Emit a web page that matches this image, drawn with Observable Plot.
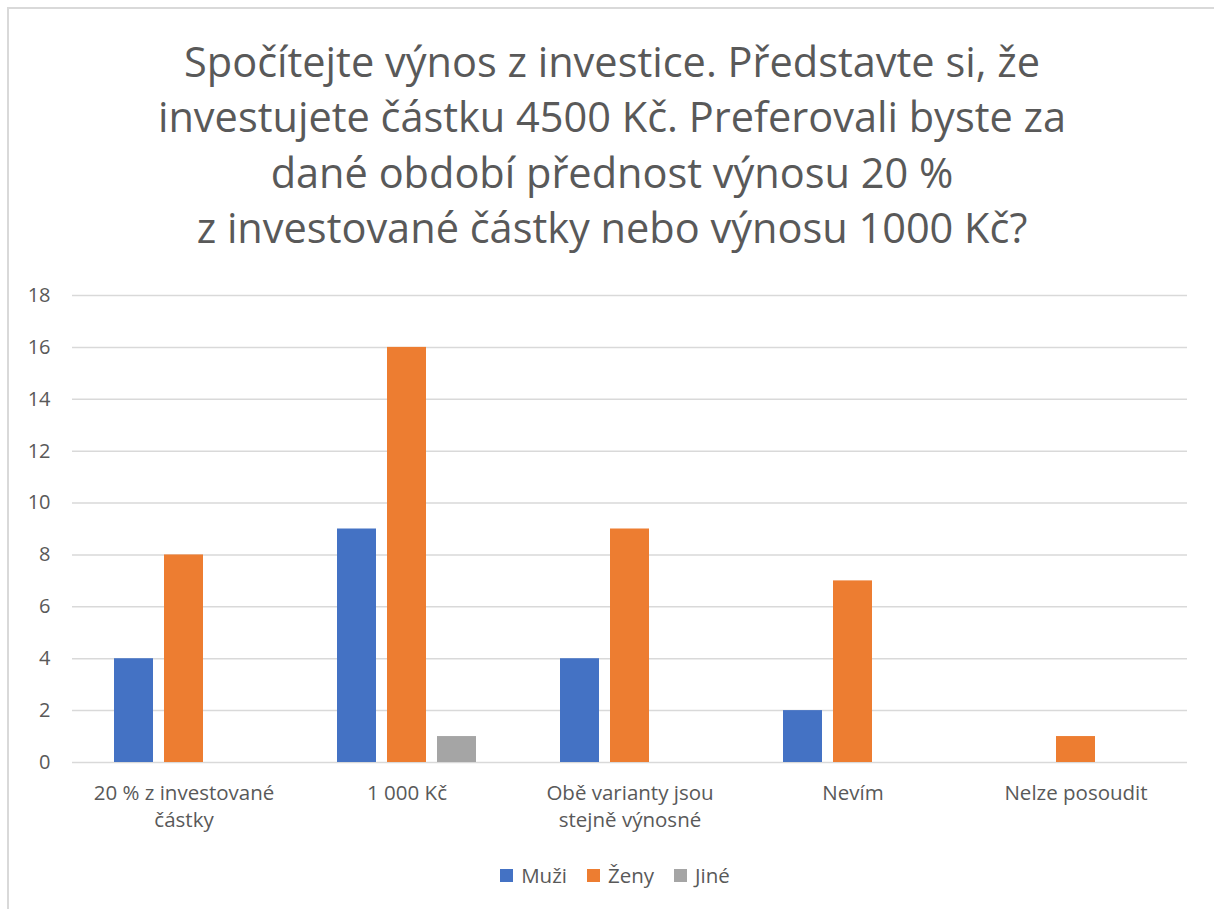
<!DOCTYPE html>
<html>
<head>
<meta charset="utf-8">
<script src="https://cdn.jsdelivr.net/npm/d3@7"></script>
<script src="https://cdn.jsdelivr.net/npm/@observablehq/plot@0.6"></script>
<style>
  html, body { margin: 0; padding: 0; background: #fff; }
  body { width: 1214px; height: 909px; position: relative; overflow: hidden; font-family: "Open Sans", sans-serif; color: #595959; }
  #frame { position: absolute; left: 7px; top: 7px; width: 1220px; height: 920px; border-left: 2px solid #d9d9d9; border-top: 2px solid #d9d9d9; box-sizing: border-box; }
  #title { position: absolute; left: 0; width: 1224px; top: 34px; text-align: center; font-size: 41.5px; line-height: 55.3px; color: #595959; white-space: nowrap; }
  #chart { position: absolute; left: 0; top: 270px; }
  #legend { position: absolute; left: 8px; width: 1214px; top: 861px; display: flex; justify-content: center; gap: 20px; font-size: 20.5px; color: #595959; line-height: 28px; }
  #legend span.item { display: flex; align-items: center; gap: 8px; }
  #legend span.sw { width: 13px; height: 13px; display: inline-block; }
</style>
</head>
<body>
<div id="frame"></div>
<div id="title">Spočítejte výnos z investice. Představte si, že<br>investujete částku 4500 Kč. Preferovali byste za<br>dané období přednost výnosu 20 %<br>z investované částky nebo výnosu 1000 Kč?</div>
<div id="chart"></div>
<div id="legend"></div>
<script>
const categories = ["20 % z investované částky", "1 000 Kč", "Obě varianty jsou stejně výnosné", "Nevím", "Nelze posoudit"];
const categoryLabels = ["20 % z investované\nčástky", "1 000 Kč", "Obě varianty jsou\nstejně výnosné", "Nevím", "Nelze posoudit"];
const series = ["Muži", "Ženy", "Jiné"];
const muzi = [4, 9, 4, 2, 0];
const zeny = [8, 16, 9, 7, 1];
const jine = [0, 1, 0, 0, 0];
const colors = ["#4472C4", "#ED7D31", "#A5A5A5"];
const yTicks = [0, 2, 4, 6, 8, 10, 12, 14, 16, 18];

const values = [muzi, zeny, jine];
const data = [];
categories.forEach((c, i) => {
  series.forEach((s, j) => {
    data.push({category: c, series: s, value: values[j][i]});
  });
});
const labelMap = new Map(categories.map((c, i) => [c, categoryLabels[i]]));

const chart = Plot.plot({
  width: 1214,
  height: 580,
  marginLeft: 72,
  marginRight: 27,
  marginTop: 25,
  marginBottom: 88,
  style: {fontFamily: "Open Sans, sans-serif", fontSize: "20px", color: "#595959", background: "transparent"},
  fx: {domain: categories, paddingInner: 0, paddingOuter: 0, label: null, axis: null},
  x: {domain: series, paddingInner: 0.22, paddingOuter: 0.84, axis: null},
  y: {domain: [0, 18], label: null},
  color: {domain: series, range: colors},
  marks: [
    Plot.gridY(yTicks, {stroke: "#d9d9d9", strokeOpacity: 1, strokeWidth: 1.5}),
    Plot.axisY(yTicks, {tickSize: 0, tickPadding: 22, fontSize: 20, fill: "#595959", label: null}),
    Plot.axisFx({anchor: "bottom", tickSize: 0, tickPadding: 18, fontSize: 20.5, fill: "#595959", lineHeight: 1.33, tickFormat: d => labelMap.get(d), label: null}),
    Plot.barY(data.filter(d => d.value > 0), {fx: "category", x: "series", y: "value", fill: "series"})
  ]
});
document.getElementById("chart").appendChild(chart);

const legend = document.getElementById("legend");
series.forEach((s, i) => {
  const item = document.createElement("span");
  item.className = "item";
  const sw = document.createElement("span");
  sw.className = "sw";
  sw.style.background = colors[i];
  item.appendChild(sw);
  item.appendChild(document.createTextNode(s));
  legend.appendChild(item);
});
</script>
</body>
</html>
